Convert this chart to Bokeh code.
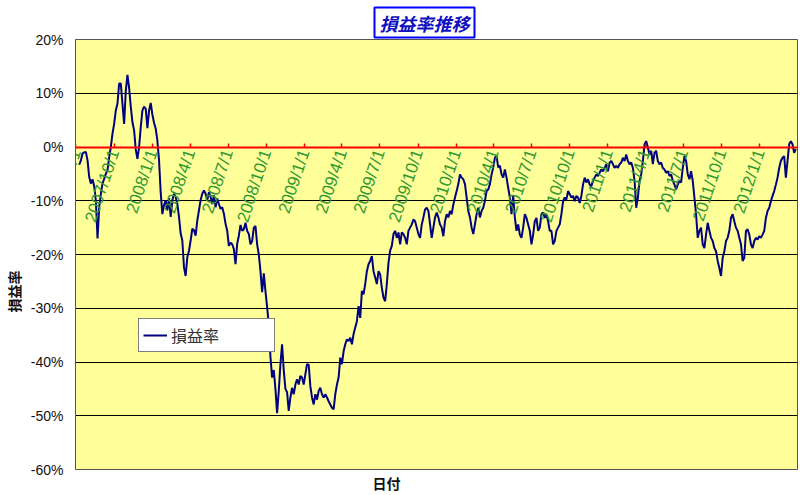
import pandas as pd
from bokeh.plotting import figure
from bokeh.models import (LinearAxis, FixedTicker, Range1d, Legend, LegendItem,
                          Title, PrintfTickFormatter)
from bokeh.embed import file_html
from bokeh.resources import INLINE

# ---------------- data ----------------
TITLE = "損益率推移"
Y_LABEL = "損益率"
X_LABEL = "日付"
SERIES_NAME = "損益率"

START_DATE = "2007-07-09"   # first observation
STEP = "4D"
X_START = "2007-06-30"
X_END = "2012-04-01"

Y_TICKS = [-60, -50, -40, -30, -20, -10, 0, 10, 20]

X_TICK_LABELS = ["2007/7/1", "2007/10/1", "2008/1/1", "2008/4/1", "2008/7/1",
                 "2008/10/1", "2009/1/1", "2009/4/1", "2009/7/1", "2009/10/1",
                 "2010/1/1", "2010/4/1", "2010/7/1", "2010/10/1", "2011/1/1",
                 "2011/4/1", "2011/7/1", "2011/10/1", "2012/1/1"]

# profit/loss rate in percent
VALUES = [
    # 2007/7 - 2008/8
    -3.3, -2.5, -1.2, -1.0, -0.9, -2.5, -5.6, -6.8, -6.0, -7.3,
    -10.0, -17.0, -11.2, -8.7, -6.8, -5.9, -5.0, -4.3, -1.9, 0.0,
    2.5, 4.3, 6.8, 8.1, 11.8, 11.8, 8.0, 4.3, 10.5, 13.4,
    11.0, 7.5, 4.6, 3.1, -0.5, -2.2, 0.0, 3.7, 6.8, 7.5,
    7.1, 3.5, 6.8, 8.2, 6.0, 4.5, 3.4, 1.2, -2.5, -8.5,
    -12.5, -10.8, -9.9, -11.8, -9.5, -13.0, -9.9, -8.7, -9.3, -10.6,
    -13.0, -16.1, -17.4, -22.4, -24.0, -20.5, -19.3, -17.4, -15.2, -15.5,
    -16.5, -13.7, -11.8, -9.9, -8.7, -8.1, -8.7, -9.9, -8.4, -9.3,
    -10.6, -9.0, -11.2, -9.6, -10.6, -11.5, -11.2, -12.4, -14.3,
    # 2008/8 - 2009/8
    -15.6, -18.4, -17.8, -18.1, -19.0, -21.8, -18.0, -16.5, -14.5, -15.6,
    -15.3, -14.1, -15.6, -16.2, -18.1, -17.5, -15.0, -14.7, -18.1, -20.0,
    -23.1, -27.0, -23.5, -26.8, -29.8, -33.0, -39.0, -42.9, -41.5, -45.0,
    -49.5, -45.4, -40.4, -36.7, -41.5, -45.0, -45.6, -49.1, -46.6, -44.8,
    -46.0, -44.2, -43.2, -44.2, -42.6, -42.9, -44.2, -42.3, -40.4, -40.5,
    -44.5, -46.6, -47.9, -46.0, -47.0, -45.4, -44.8, -46.0, -46.6, -46.0,
    -46.6, -47.3, -47.9, -48.5, -48.8, -46.0, -44.2, -42.9, -39.2, -40.4,
    -38.0, -36.7, -35.8, -36.1, -35.5, -36.7, -34.8, -33.6, -32.4, -29.6,
    -31.8, -26.8, -27.4, -25.5, -23.1, -21.8, -21.2,
    # 2009/8 - 2010/9
    -20.3, -23.1, -24.3, -25.5, -23.1, -23.7, -26.2, -28.0, -28.7, -25.5,
    -21.5, -19.3, -18.4, -16.2, -15.6, -16.9, -15.9, -18.1, -15.9, -16.2,
    -16.9, -18.1, -15.6, -15.0, -14.4, -13.5, -13.8, -15.0, -16.2, -16.9,
    -14.4, -13.1, -11.6, -11.3, -11.9, -14.4, -16.9, -15.0, -13.1, -12.2,
    -13.1, -14.4, -15.0, -16.6, -13.8, -12.5, -13.1, -11.9, -12.5, -10.7,
    -9.4, -8.2, -6.9, -5.1, -5.7, -6.0, -6.9, -9.4, -11.9, -13.1,
    -15.0, -16.2, -14.4, -12.5, -11.3, -13.1, -11.9, -11.3, -10.0, -8.2,
    -7.9, -6.9, -5.1, -3.8, -2.0, -1.7, -3.8, -3.5, -5.1, -5.7,
    -4.2, -5.7, -7.6, -9.4, -12.5, -9.1, -13.1,
    # 2010/9 - 2011/6
    -15.6, -14.4, -16.3, -16.9, -15.0, -12.5, -13.2, -14.4, -15.6, -18.1,
    -16.3, -13.8, -13.2, -15.6, -15.0, -12.5, -12.2, -13.2, -12.5, -13.8,
    -15.6, -15.6, -18.1, -17.5, -15.6, -15.0, -14.4, -12.5, -10.1, -9.4,
    -9.8, -8.2, -8.8, -9.4, -9.1, -10.1, -9.1, -9.4, -10.4, -9.1,
    -7.0, -5.7, -6.6, -6.0, -7.0, -7.3, -6.3, -5.7, -5.1, -5.4,
    -4.8, -4.2, -4.5, -3.9, -3.2, -4.5, -2.9, -2.6, -3.2, -3.9,
    -3.5, -3.9, -3.2, -2.9, -2.0, -2.6, -1.4, -2.6, -3.2, -2.9,
    -3.9, -6.3, -11.3, -9.4, -6.3, -5.1, -2.6, 0.5, 1.1, -0.1,
    -1.4, -0.7, -3.2, -1.1, -0.7, -2.6,
    # 2011/6 - 2012/3
    -3.2, -2.9, -3.9, -4.2, -4.8, -4.5, -5.4, -5.1, -6.3, -7.0,
    -7.9, -7.0, -6.3, -6.6, -3.9, -1.7, -2.6, -5.1, -6.0, -4.5,
    -6.3, -9.4, -12.5, -16.9, -15.6, -15.0, -18.1, -18.8, -16.3, -14.1,
    -15.6, -16.9, -17.5, -18.8, -19.4, -21.2, -22.5, -24.0, -20.6, -19.4,
    -17.5, -16.9, -15.6, -13.2, -12.5, -13.8, -15.0, -15.6, -16.9, -18.1,
    -21.2, -20.6, -15.6, -15.3, -16.3, -18.1, -18.8, -17.5, -16.9, -17.2,
    -16.6, -16.9, -16.3, -15.6, -13.2, -11.9, -11.3, -10.1, -9.1, -8.2,
    -7.0, -5.7, -3.9, -2.6, -2.0, -1.7, -5.7, -2.6, 0.5, 1.1,
    0.5, -1.1, -0.4,
]

# ---------------- chart ----------------
CJK = "Noto Sans CJK JP"
LATIN = "Liberation Sans"
AXIS_TITLE_FONT = "'Liberation Sans', 'Noto Sans CJK JP'"

dates = pd.date_range(START_DATE, periods=len(VALUES), freq=STEP)

p = figure(width=800, height=495, x_axis_type=None,
           x_range=Range1d(pd.Timestamp(X_START), pd.Timestamp(X_END)),
           y_range=Range1d(Y_TICKS[0], Y_TICKS[-1]),
           output_backend="svg", toolbar_location=None,
           min_border_left=74, min_border_right=3, min_border_top=39,
           min_border_bottom=26,
           background_fill_color="#FFFF99", border_fill_color="white",
           outline_line_color="#555555", outline_line_width=1)

p.title = Title(text=TITLE, align="left", offset=299,
                text_font=CJK, text_font_size="18px",
                text_font_style="bold italic", text_color="#1010C0",
                border_line_color="#0000FF", border_line_width=2,
                background_fill_color="white", padding=(5, 5, 2, 2), standoff=4)

# y axis
yaxis = p.yaxis[0]
yaxis.ticker = FixedTicker(ticks=Y_TICKS)
yaxis.formatter = PrintfTickFormatter(format="%d%%")
yaxis.major_tick_out = 0
yaxis.major_tick_in = 0
yaxis.minor_tick_out = 0
yaxis.minor_tick_in = 0
yaxis.major_label_text_font = LATIN
yaxis.major_label_text_font_size = "14px"
yaxis.major_label_text_color = "#111111"
yaxis.major_label_standoff = 12
yaxis.axis_line_color = "#555555"

p.ygrid.ticker = FixedTicker(ticks=Y_TICKS)
p.ygrid.grid_line_color = "black"
p.ygrid.grid_line_width = 1

# date axis crossing at 0%
tick_ms = [float(pd.Timestamp(s).value // 10**6) for s in X_TICK_LABELS]
date_axis = LinearAxis(fixed_location=0,
                       ticker=FixedTicker(ticks=tick_ms),
                       major_label_overrides={t: s for t, s in zip(tick_ms, X_TICK_LABELS)},
                       axis_line_color="#FF0000", axis_line_width=2,
                       major_tick_line_color="#FF0000", major_tick_line_width=1.5,
                       major_tick_in=4, major_tick_out=0,
                       minor_tick_in=0, minor_tick_out=0,
                       major_label_orientation=1.25,
                       major_label_standoff=3,
                       major_label_text_color="#339933",
                       major_label_text_font=LATIN,
                       major_label_text_font_size="17px")
p.add_layout(date_axis, "below")

# axis titles as side-panel titles, placed off-centre like the original
p.add_layout(Title(text=X_LABEL, align="left", offset=297,
                   text_font=AXIS_TITLE_FONT, text_font_size="14px",
                   text_font_style="bold", text_color="#111111",
                   standoff=8), "below")
p.add_layout(Title(text=Y_LABEL, align="left", offset=157,
                   text_font=AXIS_TITLE_FONT, text_font_size="14px",
                   text_font_style="bold", text_color="#111111",
                   standoff=9), "left")

line = p.line(dates, VALUES, line_color="#000080", line_width=2)

legend = Legend(items=[LegendItem(label=SERIES_NAME, renderers=[line])],
                location=(63, 117), orientation="vertical",
                border_line_color="black", border_line_width=1,
                background_fill_color="white", background_fill_alpha=1,
                label_text_font=CJK, label_text_font_size="16px",
                label_text_color="#333333",
                glyph_width=24, glyph_height=20, label_standoff=4,
                label_width=99, label_height=20,
                padding=4, spacing=0, margin=0)
p.add_layout(legend)

open("out.html", "w").write(file_html(p, INLINE))
